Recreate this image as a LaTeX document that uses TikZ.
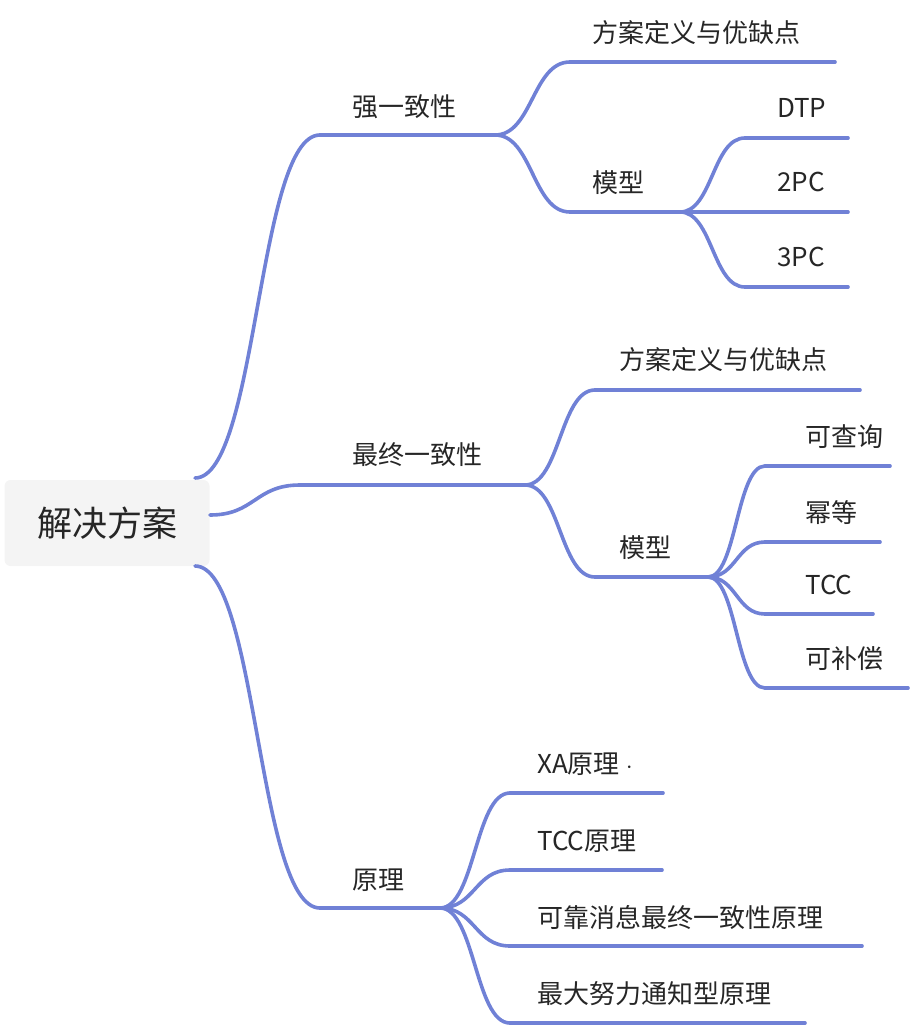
\documentclass[tikz,border=0pt]{standalone}
\usepackage{fontspec}
\newfontfamily\cjk{Noto Sans CJK SC}
\usetikzlibrary{calc}
\definecolor{edge}{HTML}{7081D6}
\definecolor{rootbg}{HTML}{F4F4F4}
\tikzset{
  link/.style={draw=edge, line width=3.6pt, line cap=round},
  label/.style={font=\cjk\fontsize{26}{30}\selectfont, text=black!85, inner sep=0pt}
}
% curve from a parent point to the left end of an underline
\newcommand{\twig}[2]{\draw[link] let \p1=(#1), \p2=(#2) in
  (\p1) .. controls ({0.5*(\x1+\x2)},\y1) and ({0.5*(\x1+\x2)},\y2) .. (\p2);}
\begin{document}
\begin{tikzpicture}[x=1pt, y=-1pt]
  \useasboundingbox (0,0) rectangle (910,1030);
  \node[fill=rootbg, rounded corners=6pt, minimum width=205pt, minimum height=86pt, text=black!85, font=\cjk\fontsize{35}{40}\selectfont] (root) at (107,523) {解决方案};
  \coordinate (rootT) at (195,478);
  \coordinate (rootM) at (210,515);
  \coordinate (rootB) at (195,566);
  % level one
  \coordinate (s0) at (320,135); \coordinate (s1) at (495,135);
  \coordinate (e0) at (300,485); \coordinate (e1) at (525,485);
  \coordinate (p0) at (320,908); \coordinate (p1) at (440,908);
  \draw[link] (s0) -- (s1); \node[label, anchor=west] (strong) at (352,107) {强一致性};
  \draw[link] (e0) -- (e1); \node[label, anchor=west] (eventual) at (352,455) {最终一致性};
  \draw[link] (p0) -- (p1); \node[label, anchor=west] (principle) at (352,880) {原理};
  \twig{rootT}{s0} \twig{rootM}{e0} \twig{rootB}{p0}
  % strong consistency
  \coordinate (sa0) at (570,62); \coordinate (sa1) at (835,62);
  \coordinate (sm0) at (570,212); \coordinate (sm1) at (680,212);
  \draw[link] (sa0) -- (sa1); \node[label, anchor=west] (sDef) at (592,33) {方案定义与优缺点};
  \draw[link] (sm0) -- (sm1); \node[label, anchor=west] (sModel) at (592,183) {模型};
  \twig{s1}{sa0} \twig{s1}{sm0}
  \foreach \y/\t in {138/DTP, 212/2PC, 287/3PC} {
    \coordinate (m0) at (745,\y); \coordinate (m1) at (848,\y);
    \draw[link] (m0) -- (m1);
    \node[label, anchor=west] at (777,\y-30) {\t};
    \twig{sm1}{m0}
  }
  % eventual consistency
  \coordinate (ea0) at (595,390); \coordinate (ea1) at (860,390);
  \coordinate (em0) at (595,577); \coordinate (em1) at (708,577);
  \draw[link] (ea0) -- (ea1); \node[label, anchor=west] (eDef) at (619,360) {方案定义与优缺点};
  \draw[link] (em0) -- (em1); \node[label, anchor=west] (eModel) at (619,548) {模型};
  \twig{e1}{ea0} \twig{e1}{em0}
  \foreach \y/\r/\t in {466/890/可查询, 542/880/幂等, 614/873/TCC, 688/908/可补偿} {
    \coordinate (n0) at (765,\y); \coordinate (n1) at (\r,\y);
    \draw[link] (n0) -- (n1);
    \node[label, anchor=west] at (805,\y-29) {\t};
    \twig{em1}{n0}
  }
  % principles
  \foreach \y/\r/\t in {793/663/XA原理 $\cdot$, 870/662/TCC原理, 946/862/可靠消息最终一致性原理, 1023/805/最大努力通知型原理} {
    \coordinate (q0) at (510,\y); \coordinate (q1) at (\r,\y);
    \draw[link] (q0) -- (q1);
    \node[label, anchor=west] at (537,\y-29) {\t};
    \twig{p1}{q0}
  }
\end{tikzpicture}
\end{document}
